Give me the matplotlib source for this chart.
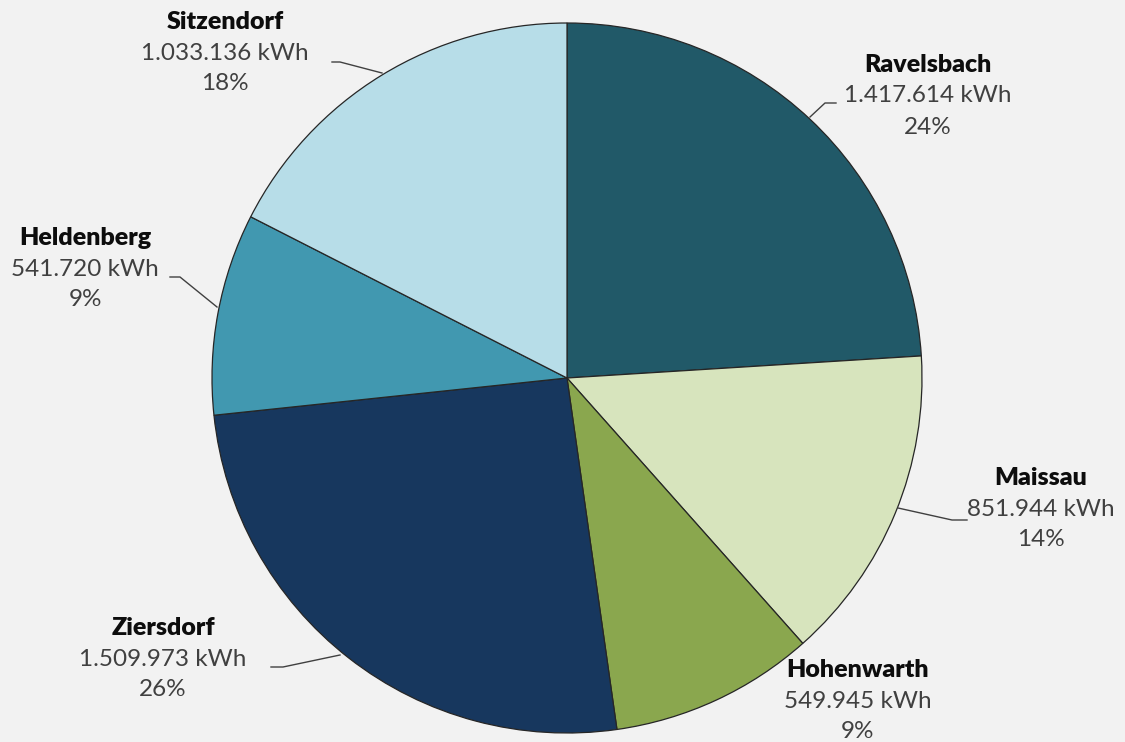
import matplotlib
matplotlib.use("Agg")
import matplotlib.pyplot as plt

# ---- data ----
names = ["Ravelsbach", "Maissau", "Hohenwarth", "Ziersdorf", "Heldenberg", "Sitzendorf"]
values = [1417614, 851944, 549945, 1509973, 541720, 1033136]
pct_labels = ["24%", "14%", "9%", "26%", "9%", "18%"]
colors = ["#215968", "#D7E4BD", "#8AA74E", "#17375E", "#4198B0", "#B7DDE8"]

W, H = 1125, 742
CX, CY, R = 567, 378, 355

# label block centres (pixel coords of the name line)
label_px = {
    "Ravelsbach": (928, 65),
    "Maissau": (1041, 478),
    "Hohenwarth": (858, 670),
    "Ziersdorf": (163, 628),
    "Heldenberg": (85, 238),
    "Sitzendorf": (225, 22),
}
# leader lines: text-side point, elbow, pie edge point
leaders = {
    "Ravelsbach": [(836, 103), (825, 103), (810, 117)],
    "Maissau": [(967, 520), (952, 520), (898, 508)],
    "Ziersdorf": [(271, 667), (283, 667), (340, 655)],
    "Heldenberg": [(170, 277), (180, 277), (217, 307)],
    "Sitzendorf": [(332, 62), (340, 62), (382, 73)],
}


def fmt(v):
    return f"{v:,}".replace(",", ".") + " kWh"


def to_data(px, py):
    return (px - CX) / R, (CY - py) / R


fig = plt.figure(figsize=(W / 100, H / 100), dpi=100, facecolor="#F2F2F2")
ax = fig.add_axes([(CX - R) / W, (H - CY - R) / H, 2 * R / W, 2 * R / H])
ax.set_facecolor("#F2F2F2")
ax.pie(values, colors=colors, startangle=90, counterclock=False, radius=1,
       wedgeprops=dict(edgecolor="#262626", linewidth=0.9))
ax.set_xlim(-1, 1)
ax.set_ylim(-1, 1)
ax.set_aspect("auto")
ax.axis("off")

fam = ["Lato", "DejaVu Sans"]
for n, v, p in zip(names, values, pct_labels):
    px, py = label_px[n]
    x, y = to_data(px, py)
    ax.text(x, y, n, ha="center", va="center", fontsize=18, fontweight="heavy",
            color="#0D0D0D", family=fam, clip_on=False)
    x2, y2 = to_data(px, py + 31)
    ax.text(x2, y2, fmt(v), ha="center", va="center", fontsize=17.5,
            color="#404040", family=fam, clip_on=False)
    x3, y3 = to_data(px, py + 62)
    ax.text(x3, y3, p, ha="center", va="center", fontsize=17.5,
            color="#404040", family=fam, clip_on=False)

for n, pts in leaders.items():
    xs, ys = zip(*[to_data(a, b) for a, b in pts])
    ax.plot(xs, ys, color="#404040", linewidth=1.0, clip_on=False)

fig.savefig("out.png", dpi=100, facecolor="#F2F2F2")
